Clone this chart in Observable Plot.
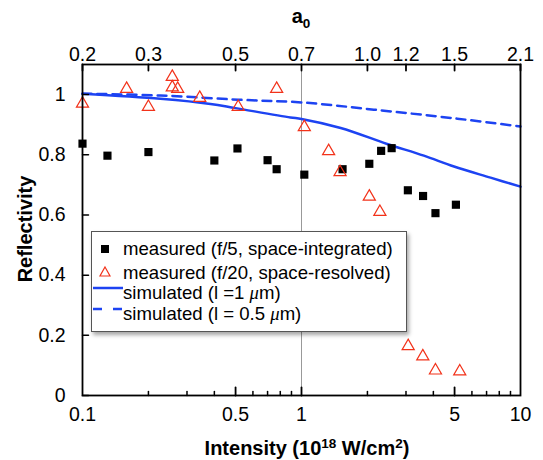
<!DOCTYPE html>
<html><head><meta charset="utf-8">
<script src="https://cdn.jsdelivr.net/npm/d3@7"></script>
<script src="https://cdn.jsdelivr.net/npm/@observablehq/plot@0.6"></script>
<style>
body{margin:0;background:#fff;font-family:"Liberation Sans",Arial,sans-serif;}
#wrap{position:relative;width:543px;height:460px;}
#legend{position:absolute;left:91px;top:231px;width:314px;height:99px;background:#fff;border:1px solid #555;box-shadow:2px 3px 4px rgba(0,0,0,0.35);font-size:18.6px;color:#000;}
.row{position:absolute;left:0;height:22px;line-height:22px;white-space:nowrap;}
.row span{position:absolute;left:31px;}
.row svg{position:absolute;left:0;top:0;}
</style></head><body><div id="wrap"></div>
<script>
// measured f/5 (space-integrated)
const f5Intensity   = [0.10, 0.13, 0.20, 0.40, 0.51, 0.70, 0.77, 1.03, 1.54, 2.04, 2.31, 2.58, 3.06, 3.59, 4.09, 5.07];
const f5Reflectivity = [0.837, 0.797, 0.809, 0.781, 0.821, 0.782, 0.752, 0.734, 0.752, 0.770, 0.813, 0.822, 0.682, 0.663, 0.606, 0.634];
// measured f/20 (space-resolved)
const f20Intensity   = [0.10, 0.159, 0.20, 0.257, 0.257, 0.272, 0.343, 0.514, 0.77, 1.03, 1.33, 1.50, 2.04, 2.28, 3.07, 3.58, 4.09, 5.28];
const f20Reflectivity = [0.970, 1.019, 0.959, 1.059, 1.024, 1.019, 0.989, 0.959, 1.019, 0.892, 0.812, 0.742, 0.661, 0.610, 0.164, 0.130, 0.083, 0.080];
// simulated, l = 1 um
const sim1Intensity   = [0.10, 0.227, 0.384, 0.50, 0.89, 1.0, 1.51, 2.46, 3.62, 4.97, 7.3, 10];
const sim1Reflectivity = [1.003, 0.986, 0.969, 0.955, 0.924, 0.919, 0.889, 0.836, 0.797, 0.761, 0.724, 0.694];
// simulated, l = 0.5 um
const sim05Intensity   = [0.10, 0.227, 0.514, 1.0, 2.14, 5.14, 10];
const sim05Reflectivity = [1.003, 0.997, 0.983, 0.974, 0.950, 0.920, 0.894];
// axes
const xTickValues = [0.1, 0.5, 1, 5, 10];
const xMajorTicks = [0.5, 1, 5];
const xMinorTicks = [0.2, 0.3, 0.4, 0.6, 0.7, 0.8, 0.9, 2, 3, 4, 6, 7, 8, 9];
const a0TickIntensity = [0.1, 0.2, 0.5, 1, 2, 3, 5, 10];
const a0TickLabels = ["0.2", "0.3", "0.5", "0.7", "1.0", "1.2", "1.5", "2.1"];
const yTickValues = [0, 0.2, 0.4, 0.6, 0.8, 1];
const yTickLabels = ["0", "0.2", "0.4", "0.6", "0.8", "1"];

const blue = "#1d43f2", red = "#f2321a";
const f5 = f5Intensity.map((x, i) => ({x, y: f5Reflectivity[i]}));
const f20 = f20Intensity.map((x, i) => ({x, y: f20Reflectivity[i]}));
const s1 = sim1Intensity.map((x, i) => ({x, y: sim1Reflectivity[i]}));
const s05 = sim05Intensity.map((x, i) => ({x, y: sim05Reflectivity[i]}));
const tickShape = {draw(ctx, l) { ctx.moveTo(0, 0); ctx.lineTo(0, -l); }};

const svg = Plot.plot({
  width: 543, height: 460,
  marginLeft: 82, marginRight: 23, marginTop: 64, marginBottom: 65,
  style: {fontFamily: "'Liberation Sans', Arial, sans-serif", fontSize: "19.5px", color: "#000", background: "#fff"},
  x: {type: "log", domain: [0.1, 10], axis: null},
  y: {domain: [0, 1.1], axis: null},
  marks: [
    Plot.ruleX([1], {stroke: "#999", strokeWidth: 1}),
    Plot.line(s05, {x: "x", y: "y", stroke: blue, strokeWidth: 2.5, strokeDasharray: "9,6", curve: "catmull-rom"}),
    Plot.line(s1, {x: "x", y: "y", stroke: blue, strokeWidth: 2.5, curve: "catmull-rom"}),
    Plot.dot(f5, {x: "x", y: "y", symbol: "square", r: 4.6, fill: "#000", stroke: "none"}),
    Plot.dot(f20, {x: "x", y: "y", symbol: "triangle", r: 4.5, fill: "none", stroke: red, strokeWidth: 1.2}),
    Plot.frame({stroke: "#000", strokeWidth: 1.8}),
    Plot.vector(xMajorTicks, {x: d => d, frameAnchor: "bottom", rotate: 0, length: 8, anchor: "start", shape: tickShape, stroke: "#000", strokeWidth: 1.8}),
    Plot.vector(xMinorTicks, {x: d => d, frameAnchor: "bottom", rotate: 0, length: 4, anchor: "start", shape: tickShape, stroke: "#000", strokeWidth: 1.5}),
    Plot.vector(a0TickIntensity, {x: d => d, frameAnchor: "top", rotate: 180, length: 6, anchor: "start", shape: tickShape, stroke: "#000", strokeWidth: 1.8}),
    Plot.vector(yTickValues, {y: d => d, frameAnchor: "left", rotate: 90, length: 6, anchor: "start", shape: tickShape, stroke: "#000", strokeWidth: 1.5}),
    Plot.text(xTickValues, {x: d => d, text: d => String(d), frameAnchor: "bottom", dy: 25, fontSize: 19.5}),
    Plot.text(a0TickIntensity, {x: d => d, text: (d, i) => a0TickLabels[i], frameAnchor: "top", dy: -17, fontSize: 19.5}),
    Plot.text(yTickValues, {y: d => d, text: (d, i) => yTickLabels[i], frameAnchor: "left", textAnchor: "end", dx: -17, fontSize: 19.5})
  ]
});
document.getElementById("wrap").appendChild(svg);

// axis titles with sub/superscripts
const s = d3.select(svg);
const xt = s.append("text").attr("x", 307).attr("y", 455).attr("text-anchor", "middle")
  .attr("font-weight", "bold").attr("font-size", 20).attr("fill", "#000");
xt.append("tspan").text("Intensity (10");
xt.append("tspan").attr("font-size", 13.5).attr("dy", -7).text("18");
xt.append("tspan").attr("dy", 7).text(" W/cm");
xt.append("tspan").attr("font-size", 13.5).attr("dy", -7).text("2");
xt.append("tspan").attr("dy", 7).text(")");
s.append("text").attr("transform", "translate(32,229) rotate(-90)").attr("text-anchor", "middle")
  .attr("font-weight", "bold").attr("font-size", 20).attr("fill", "#000").text("Reflectivity");
const at = s.append("text").attr("x", 301).attr("y", 23).attr("text-anchor", "middle")
  .attr("font-weight", "bold").attr("font-size", 20).attr("fill", "#000");
at.append("tspan").text("a");
at.append("tspan").attr("font-size", 13.5).attr("dy", 5).text("0");

// legend
const legendRows = [
  {label: "measured (f/5, space-integrated)", kind: "square"},
  {label: "measured (f/20, space-resolved)", kind: "triangle"},
  {label: "simulated (l =1 <i style='font-family:\"Liberation Serif\",serif'>μ</i>m)", kind: "solid"},
  {label: "simulated (l = 0.5 <i style='font-family:\"Liberation Serif\",serif'>μ</i>m)", kind: "dashed"}
];
const legendTops = [6, 30, 50, 71];
const lg = document.createElement("div");
lg.id = "legend";
legendRows.forEach((r, i) => {
  const row = document.createElement("div");
  row.className = "row";
  row.style.top = legendTops[i] + "px";
  let sw = "";
  if (r.kind === "square") sw = `<rect x="9" y="7" width="8" height="8" fill="#000"/>`;
  if (r.kind === "triangle") sw = `<path d="M13,5 L18,14 L8,14 Z" fill="none" stroke="${red}" stroke-width="1.2"/>`;
  if (r.kind === "solid") sw = `<line x1="1" x2="31" y1="6" y2="6" stroke="${blue}" stroke-width="2.5"/>`;
  if (r.kind === "dashed") sw = `<line x1="1" x2="31" y1="6" y2="6" stroke="${blue}" stroke-width="2.5" stroke-dasharray="9,11"/>`;
  row.innerHTML = `<svg width="32" height="22">${sw}</svg><span>${r.label}</span>`;
  lg.appendChild(row);
});
document.getElementById("wrap").appendChild(lg);
</script>
</body></html>
